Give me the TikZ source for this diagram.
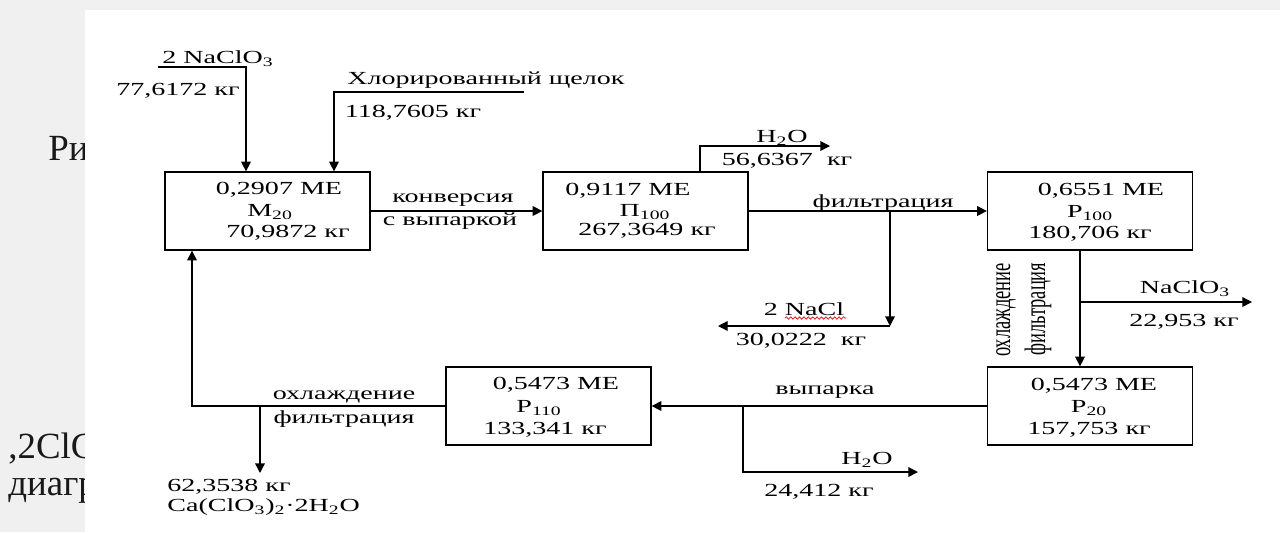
\documentclass[tikz,border=0pt]{standalone}
\usepackage{fontspec}
\usepackage{graphicx}
\setmainfont{Liberation Serif}
\newfontfamily\widefont{Liberation Serif}[FakeStretch=1.52]
\usetikzlibrary{arrows.meta,decorations.pathmorphing}

\begin{document}
\begin{tikzpicture}[x=0.02cm, y=-0.02cm,
  font=\widefont\fontsize{10.5}{12}\selectfont,
  box/.style={draw, line width=0.75pt, minimum width=4.1cm, minimum height=1.56cm, inner sep=0pt},
  flow/.style={line width=0.75pt, -{Triangle[length=5.5pt, width=5.5pt]}},
  lbl/.style={inner sep=0pt},
  vlbl/.style={inner sep=0pt, rotate=90, font=\rmfamily\fontsize{10.5}{12}\selectfont},
  slide/.style={inner sep=0pt, anchor=base west, text=black!90, font=\rmfamily\fontsize{21}{24}\selectfont}]
  \useasboundingbox (0,0) rectangle (1280,532);
  % slide behind the picture
  \fill[black!6] (0,0) rectangle (1280,532);
  \node[slide] (sA) at (48,160) {Ри};
  \node[slide] (sB) at (8,458) {,2ClС};
  \node[slide] (sC) at (8,495) {диагр};
  \fill[white] (85,10) rectangle (1280,532);

  % boxes
  \node[box] (m20) at (267.5,211) {};
  \node[box] (p100) at (645.5,211) {};
  \node[box] (r100) at (1090,211) {};
  \node[box] (r20) at (1090,406) {};
  \node[box] (r110) at (548.5,406) {};

  \node[lbl] (m20a) at (279,190) {0,2907 МЕ};
  \node[lbl] (m20b) at (270,212) {М\textsubscript{20}};
  \node[lbl] (m20c) at (288,233) {70,9872 кг};
  \node[lbl] (p100a) at (628,191) {0,9117 МЕ};
  \node[lbl] (p100b) at (645,212) {П\textsubscript{100}};
  \node[lbl] (p100c) at (647,231) {267,3649 кг};
  \node[lbl] (r100a) at (1101,191) {0,6551 МЕ};
  \node[lbl] (r100b) at (1090,213) {Р\textsubscript{100}};
  \node[lbl] (r100c) at (1090,234) {180,706 кг};
  \node[lbl] (r20a) at (1094,386) {0,5473 МЕ};
  \node[lbl] (r20b) at (1089,408) {Р\textsubscript{20}};
  \node[lbl] (r20c) at (1089,430) {157,753 кг};
  \node[lbl] (r110a) at (556,385) {0,5473 МЕ};
  \node[lbl] (r110b) at (539,408) {Р\textsubscript{110}};
  \node[lbl] (r110c) at (545,430) {133,341 кг};

  % inputs
  \coordinate (naIn) at (158,67);
  \coordinate (naBend) at (246,67);
  \draw[flow] (naIn) -- (naBend) -- (naBend |- m20.north);
  \node[lbl] (naT) at (218,59) {2 NaClO\textsubscript{3}};
  \node[lbl] (naM) at (178,91) {77,6172 кг};
  \coordinate (clIn) at (524,92);
  \coordinate (clBend) at (334,92);
  \draw[flow] (clIn) -- (clBend) -- (clBend |- m20.north);
  \node[lbl] (clT) at (486,80) {Хлорированный щелок};
  \node[lbl] (clM) at (413,113) {118,7605 кг};

  % conversion
  \draw[flow] (m20.east) -- (p100.west);
  \node[lbl] (cvA) at (453,200) {конверсия};
  \node[lbl] (cvB) at (450,221) {с выпаркой};
  \coordinate (w1) at (700,146);
  \coordinate (w1Out) at (830,146);
  \draw[flow] (p100.north -| w1) -- (w1) -- (w1Out);
  \node[lbl] (w1T) at (782,138) {H\textsubscript{2}O};
  \node[lbl] (w1M) at (787,161) {56,6367\ \ кг};

  % filtration
  \draw[flow] (p100.east) -- (r100.west);
  \node[lbl] (fT) at (883,203) {фильтрация};
  \coordinate (fj) at (890,211);
  \coordinate (fc) at (890,326);
  \coordinate (saltOut) at (718,326);
  \draw[flow] (fj) -- (fc);
  \draw[flow] (fc) -- (saltOut);
  \node[lbl] (saltT) at (804,309) {2 NaCl};
  \draw[red, line width=0.4pt, decorate, decoration={snake, amplitude=0.7pt, segment length=2.5pt}] (785,318) -- (846,318);
  \node[lbl] (saltM) at (801,341) {30,0222\ \ кг};

  % cooling
  \coordinate (cj) at (1080,302);
  \coordinate (naOut) at (1252,302);
  \draw[flow] (r100.south -| cj) -- (r20.north -| cj);
  \draw[flow] (cj) -- (naOut);
  \node[vlbl] (cgA) at (1006,310) {\scalebox{1}[1.6]{охлаждение}};
  \node[vlbl] (cgB) at (1038,309) {\scalebox{1}[1.6]{фильтрация}};
  \node[lbl] (naOT) at (1185,289) {NaClO\textsubscript{3}};
  \node[lbl] (naOM) at (1184,322) {22,953 кг};

  % evaporation
  \draw[flow] (r20.west) -- (r110.east);
  \node[lbl] (evT) at (825,392) {выпарка};
  \coordinate (ej) at (743,406);
  \coordinate (ec) at (743,472);
  \coordinate (w2Out) at (918,472);
  \draw[flow] (ej) -- (ec) -- (w2Out);
  \node[lbl] (w2T) at (867,460) {H\textsubscript{2}O};
  \node[lbl] (w2M) at (819,492) {24,412 кг};

  % return
  \coordinate (rc) at (192,406);
  \draw[flow] (r110.west) -- (rc) -- (rc |- m20.south);
  \node[lbl] (rtA) at (344,397) {охлаждение};
  \node[lbl] (rtB) at (344,419) {фильтрация};
  \coordinate (kj) at (260,406);
  \coordinate (kOut) at (260,473);
  \draw[flow] (kj) -- (kOut);
  \node[lbl, anchor=west] (kM) at (167,487) {62,3538 кг};
  \node[lbl, anchor=west] (kT) at (167,507) {Ca(ClO\textsubscript{3})\textsubscript{2}·2H\textsubscript{2}O};
\end{tikzpicture}
\end{document}
